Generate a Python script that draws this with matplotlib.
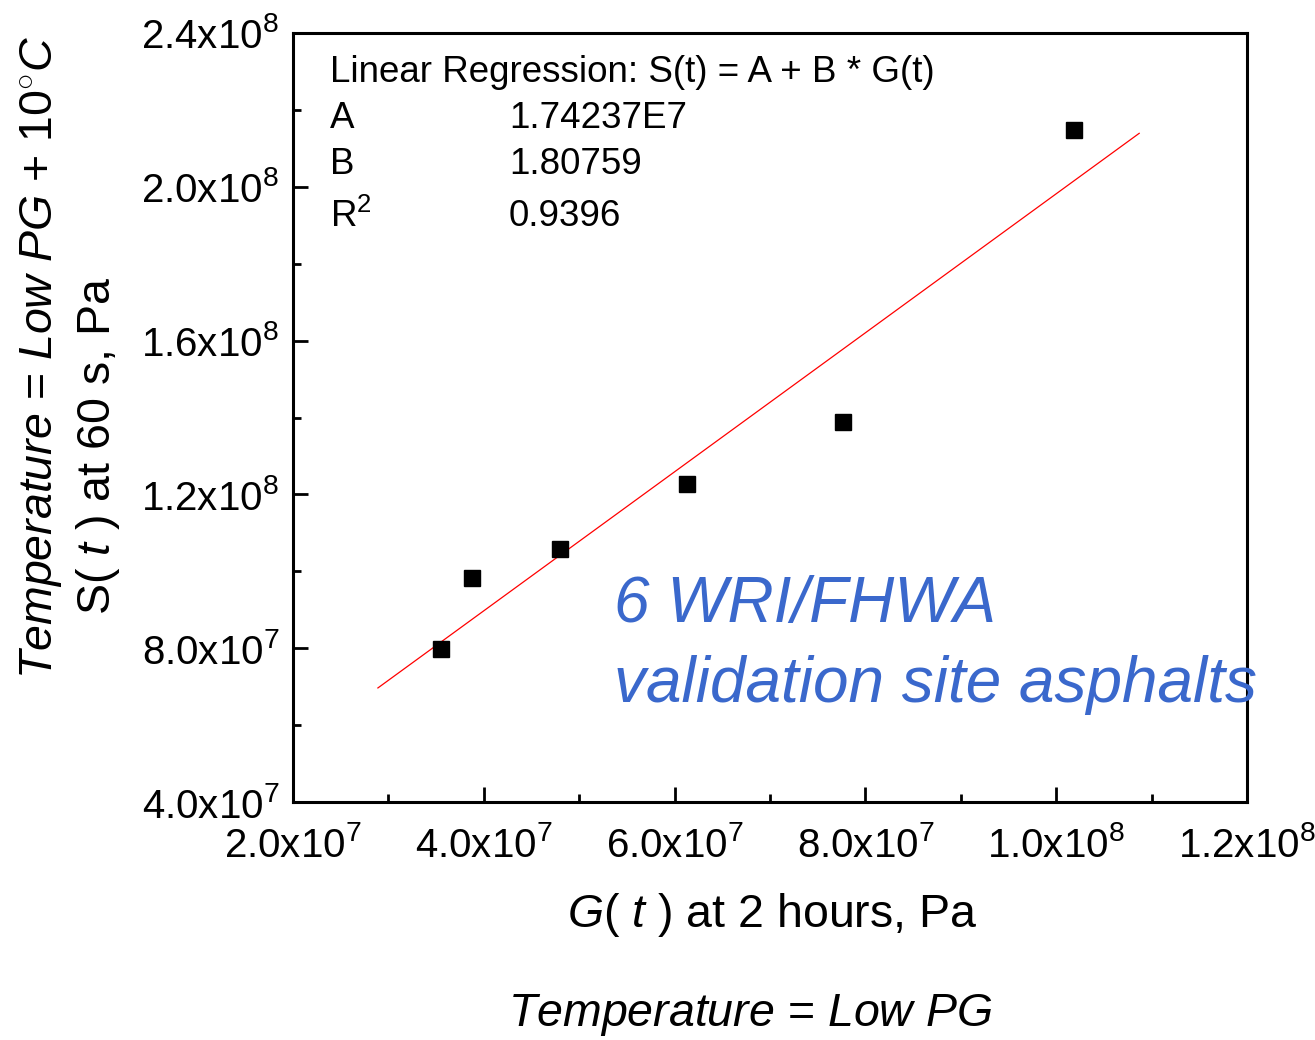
import numpy as np
import matplotlib
matplotlib.use('Agg')
import matplotlib.pyplot as plt
from matplotlib.ticker import FixedLocator, FixedFormatter, MultipleLocator

plt.rcParams['font.family'] = ['Liberation Sans', 'DejaVu Sans']
plt.rcParams['mathtext.fontset'] = 'custom'
plt.rcParams['mathtext.rm'] = 'Liberation Sans'
plt.rcParams['mathtext.it'] = 'Liberation Sans:italic'
plt.rcParams['mathtext.default'] = 'regular'

# data
G_2h = [3.55e7, 3.88e7, 4.80e7, 6.13e7, 7.77e7, 1.019e8]
S_60s = [7.98e7, 9.83e7, 1.058e8, 1.227e8, 1.388e8, 2.148e8]

# fitted line S = A + B*G
A = 1.74237e7
B = 1.80759
R2 = 0.9396
fit_range = [2.89e7, 1.087e8]

xticks = [2.0e7, 4.0e7, 6.0e7, 8.0e7, 1.0e8, 1.2e8]
xticklabels = [r'$2.0x10^{7}$', r'$4.0x10^{7}$', r'$6.0x10^{7}$',
               r'$8.0x10^{7}$', r'$1.0x10^{8}$', r'$1.2x10^{8}$']
yticks = [4.0e7, 8.0e7, 1.2e8, 1.6e8, 2.0e8, 2.4e8]
yticklabels = [r'$4.0x10^{7}$', r'$8.0x10^{7}$', r'$1.2x10^{8}$',
               r'$1.6x10^{8}$', r'$2.0x10^{8}$', r'$2.4x10^{8}$']

W, H = 1315, 1040
fig = plt.figure(figsize=(W/100, H/100), dpi=100)
ax = fig.add_axes([293/W, 1-802/H, (1247-293)/W, (802-33)/H])

xfit = np.array(fit_range)
ax.plot(xfit, A + B*xfit, color='red', lw=0.9, zorder=2)
ax.plot(G_2h, S_60s, 's', color='black', ms=11, zorder=3)

ax.set_xlim(2.0e7, 1.2e8)
ax.set_ylim(4.0e7, 2.4e8)
ax.xaxis.set_major_locator(FixedLocator(xticks))
ax.xaxis.set_major_formatter(FixedFormatter(xticklabels))
ax.yaxis.set_major_locator(FixedLocator(yticks))
ax.yaxis.set_major_formatter(FixedFormatter(yticklabels))
ax.xaxis.set_minor_locator(MultipleLocator(1.0e7))
ax.yaxis.set_minor_locator(MultipleLocator(2.0e7))

for sp in ax.spines.values():
    sp.set_linewidth(2.2)
    sp.set_zorder(5)
ax.tick_params(which='major', direction='in', length=11, width=2, labelsize=29)
ax.tick_params(axis='x', which='major', pad=17)
ax.tick_params(axis='y', which='major', pad=10)
ax.tick_params(which='minor', direction='in', length=6, width=2)
ax.tick_params(which='both', top=True, right=True)
for t in ax.xaxis.get_ticklines(minor=False)[1::2] + ax.xaxis.get_ticklines(minor=True)[1::2]:
    t.set_markersize(1)
for t in ax.yaxis.get_ticklines(minor=False)[1::2] + ax.yaxis.get_ticklines(minor=True)[1::2]:
    t.set_markersize(1)

# regression box text
fs = 26.5
rows = [('A', '1.74237E7'), ('B', '1.80759'), (r'$R^{2}$', '0.9396')]
fig.text(330/W, 1-73/H, 'Linear Regression: S(t) = A + B * G(t)', fontsize=fs, va='center', ha='left')
for i, (name, val) in enumerate(rows):
    yy = 1 - (119 + 46*i + (6 if i == 2 else 0))/H
    fig.text(330/W, yy, name, fontsize=fs, va='center', ha='left')
    fig.text(509/W, yy, val, fontsize=fs, va='center', ha='left')

# annotation
fig.text(614/W, 1-605/H, '6 WRI/FHWA', fontsize=46, style='italic',
         color='#3A68CC', va='center', ha='left', zorder=1)
fig.text(614/W, 1-685/H, 'validation site asphalts', fontsize=46, style='italic',
         color='#3A68CC', va='center', ha='left', zorder=1)

# axis labels
fig.text(772/W, 1-915/H, r'$\mathit{G}$( $\mathit{t}$ ) at 2 hours, Pa', fontsize=33.5,
         ha='center', va='center')
fig.text(750/W, 1-1015/H, r'$\mathit{Temperature}$ = $\mathit{Low\ PG}$', fontsize=33.5,
         ha='center', va='center')
fig.text(42/W, 1-357/H, r'$\mathit{Temperature}$ = $\mathit{Low\ PG}$ + $\mathit{10^{\circ}C}$',
         fontsize=33.5, rotation=90, ha='center', va='center')
fig.text(98/W, 1-446/H, r'S( $\mathit{t}$ ) at 60 s, Pa', fontsize=33.5, rotation=90,
         ha='center', va='center')

fig.savefig('out.png', dpi=100)
